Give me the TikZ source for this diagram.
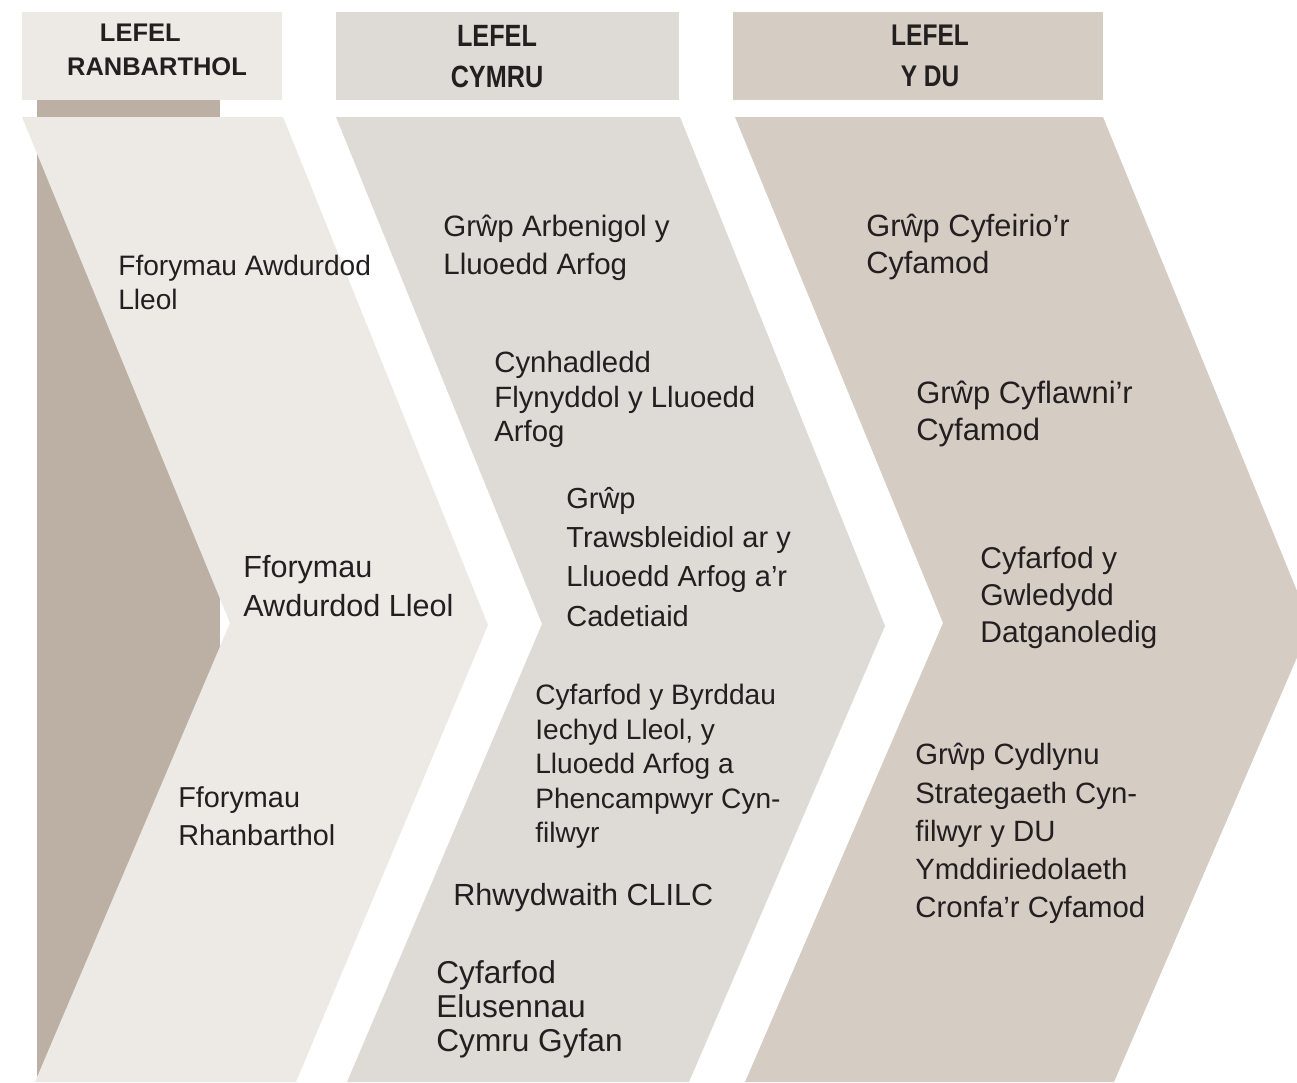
\documentclass[tikz,border=0pt]{standalone}
\usepackage{fontspec}
\setmainfont{Liberation Sans}
\newfontfamily\narrowfont[FakeStretch=0.82]{Liberation Sans}
\usepackage{tikz}
\usepackage{tkz-euclide}

\definecolor{paleA}{HTML}{EDEAE6}
\definecolor{paleB}{HTML}{DEDAD5}
\definecolor{paleC}{HTML}{D5CCC4}
\definecolor{darkstrip}{HTML}{BCB0A4}
\definecolor{ink}{HTML}{231F20}

\tikzset{
  item/.style={anchor=north west, align=left, inner sep=0pt, text=ink},
  fs/.style 2 args={font=\fontsize{#1}{#2}\selectfont},
  lefel/.style={anchor=north, align=center, inner sep=0pt, text=ink}
}

\begin{document}
\begin{tikzpicture}[x=0.02cm,y=-0.02cm]
        \useasboundingbox (0,0) rectangle (1297,1082);
        \clip (0,0) rectangle (1297,1082);

        % header boxes
        \tkzDefPoints{22/12/H1,282/100/H2,336/12/H3,679/100/H4,733/12/H5,1103/100/H6}
        \fill[paleA] (H1) rectangle (H2);
        \fill[paleB] (H3) rectangle (H4);
        \fill[paleC] (H5) rectangle (H6);

        % strip behind the first chevron
        \tkzDefPoints{37/100/D1,220/1082/D2}
        \fill[darkstrip] (D1) rectangle (D2);

        % corners of the chevrons
        \tkzDefPoints{22/117/A1,283/117/A2,488/625/A3,296/1082/A4,35/1082/A5,230/623/A6}
        \tkzDefPoints{336/117/B1,680/117/B2,885/626/B3,689/1082/B4,347/1082/B5,542/624/B6}
        \tkzDefPoints{735/117/C1,1103/117/C2,1311/625/C3,1114/1082/C4,745/1082/C5,943/623/C6}
        \tkzFillPolygon[color=paleA](A1,A2,A3,A4,A5,A6)
        \tkzFillPolygon[color=paleB](B1,B2,B3,B4,B5,B6)
        \tkzFillPolygon[color=paleC](C1,C2,C3,C4,C5,C6)

        % headings
        \node[lefel, font={\bfseries\fontsize{14.5}{19.4}\selectfont}] (ranbarthol) at (157,24)
            {LEFEL\rule{19pt}{0pt}\\RANBARTHOL};
        \node[lefel, font={\narrowfont\bfseries\fontsize{17.5}{23.3}\selectfont}] (cymru) at (497,25)
            {LEFEL\\CYMRU};
        \node[lefel, font={\narrowfont\bfseries\fontsize{17}{23.3}\selectfont}] (ydu) at (930,25)
            {LEFEL\\Y DU};

        % regional level
        \node[item, fs={16}{19}] (awdurdodA) at (118,255) {Fforymau Awdurdod\\Lleol};
        \node[item, fs={17.4}{22.2}] (awdurdodB) at (243,555) {Fforymau\\Awdurdod Lleol};
        \node[item, fs={16.4}{21.6}] (rhanbarthol) at (178,786) {Fforymau\\Rhanbarthol};

        % Wales level
        \node[item, fs={16.8}{21.6}] (arbenigol) at (443,215) {Grŵp Arbenigol y\\Lluoedd Arfog};
        \node[item, fs={16.7}{19.6}] (cynhadledd) at (494,351) {Cynhadledd\\Flynyddol y Lluoedd\\Arfog};
        \node[item, fs={16.5}{22.3}] (trawsbleidiol) at (566,487)
            {Grŵp\\Trawsbleidiol ar y\\Lluoedd Arfog a’r\\Cadetiaid};
        \node[item, fs={16}{19.6}] (byrddau) at (535,684)
            {Cyfarfod y Byrddau\\Iechyd Lleol, y\\Lluoedd Arfog a\\Phencampwyr Cyn-\\filwyr};
        \node[item, fs={17.4}{21}] (clilc) at (453,883) {Rhwydwaith CLILC};
        \node[item, fs={18}{19.4}] (elusennau) at (436,960) {Cyfarfod\\Elusennau\\Cymru Gyfan};

        % UK level
        \node[item, fs={17.5}{21.1}] (cyfeirio) at (866,214) {Grŵp Cyfeirio’r\\Cyfamod};
        \node[item, fs={17.6}{21.1}] (cyflawni) at (916,381) {Grŵp Cyflawni’r\\Cyfamod};
        \node[item, fs={17.1}{21.1}] (gwledydd) at (980,546) {Cyfarfod y\\Gwledydd\\Datganoledig};
        \node[item, fs={16.7}{21.8}] (cydlynu) at (915,743)
            {Grŵp Cydlynu\\Strategaeth Cyn-\\filwyr y DU\\Ymddiriedolaeth\\Cronfa’r Cyfamod};
\end{tikzpicture}
\end{document}
